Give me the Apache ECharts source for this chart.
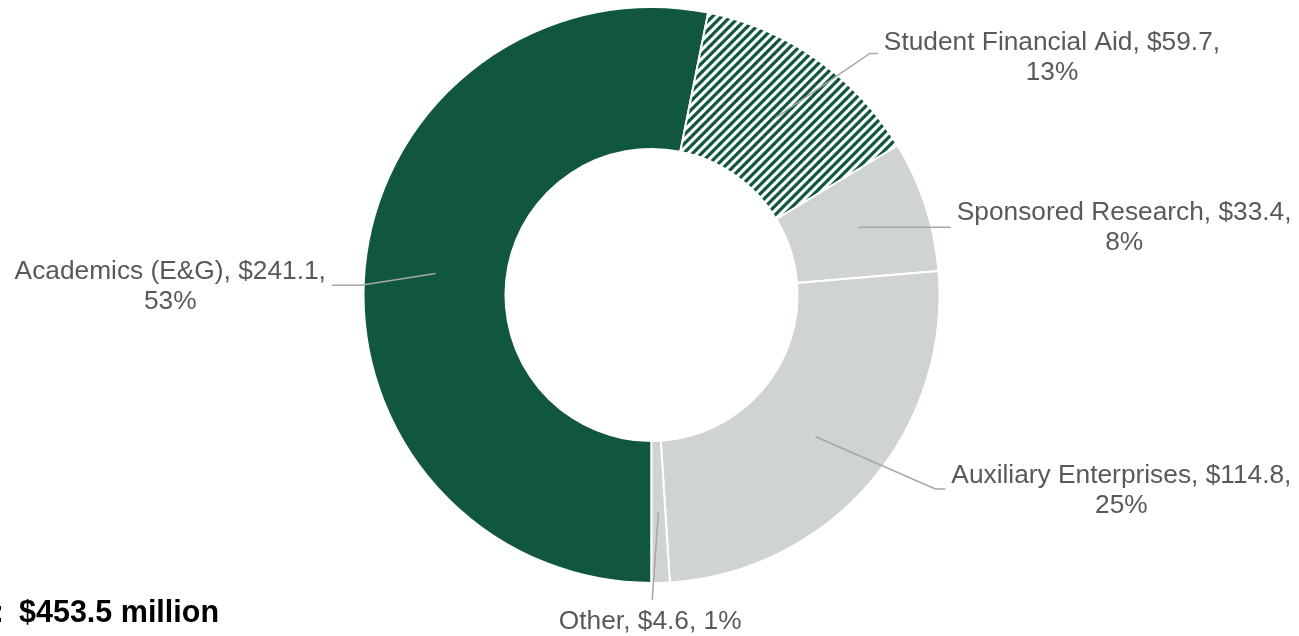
<!DOCTYPE html>
<html><head><meta charset="utf-8">
<script src="https://cdn.jsdelivr.net/npm/echarts@6/dist/echarts.min.js"></script>
<style>html,body{margin:0;padding:0;background:#fff}#c{width:1299px;height:636px}</style>
</head><body><div id="c"></div>
<script>
// ---- data ----
const categories = ['Academics (E&G)', 'Student Financial Aid', 'Sponsored Research', 'Auxiliary Enterprises', 'Other'];
const values = [241.1, 59.7, 33.4, 114.8, 4.6];
const percentLabels = ['53%', '13%', '8%', '25%', '1%'];
const twoLineLabel = [true, true, true, true, false];
const totalPrefix = 'Total:';
const totalLabel = '$453.5 million';

// ---- style ----
const GREEN = '#115740', GRAY = '#D0D3D4', TEXT = '#595959', FONT = '"Liberation Sans", Arial, sans-serif';
function makeHatch() {
  const s = 9, c = document.createElement('canvas');
  c.width = s; c.height = s;
  const g = c.getContext('2d');
  g.fillStyle = '#fff'; g.fillRect(0, 0, s, s);
  g.strokeStyle = GREEN; g.lineWidth = 3.2;
  g.beginPath();
  for (const o of [-s, 0, s]) { g.moveTo(o - 1, s + 1); g.lineTo(o + s + 1, -1); }
  g.stroke();
  return c;
}
const sliceFill = [GREEN, { image: makeHatch(), repeat: 'repeat' }, GRAY, GRAY, GRAY];
// leader-line styling per slice: radial length, horizontal length, elbow shift, line vertical shift, text vertical shift
const lineCfg = [
  { len: 75, len2: 29, ex: 0, dy: 19, ty: 1.5 },
  { len: 78, len2: 57, ex: 49, dy: 0, ty: 4 },
  { len: 2, len2: 91, ex: 0, dy: 0, ty: 0 },
  { len: 80, len2: 69, ex: 59, dy: 0, ty: 2 },
  { len: 88, len2: 0, ex: -9, dy: 22, dx: -11, ty: 0, center: true }
];
const CENTER = [651.5, 295];

const chart = echarts.init(document.getElementById('c'), null, { renderer: 'canvas' });
chart.setOption({
  animation: false,
  backgroundColor: '#fff',
  graphic: [
    { type: 'text', x: 4, y: 614, style: { text: totalPrefix, font: 'bold 30.5px ' + FONT, fill: '#000', align: 'right', textAlign: 'right', verticalAlign: 'middle', textVerticalAlign: 'middle' } },
    { type: 'text', x: 19, y: 614, style: { text: totalLabel, font: 'bold 30.5px ' + FONT, fill: '#000', align: 'left', textAlign: 'left', verticalAlign: 'middle', textVerticalAlign: 'middle' } }
  ],
  series: [
    {
      type: 'pie', z: 1, center: CENTER, radius: [146, 288], startAngle: 270, clockwise: true,
      silent: true, emphasis: { disabled: true },
      label: { show: false }, labelLine: { show: false },
      itemStyle: { borderColor: '#fff', borderWidth: 2 },
      data: values.map((v, i) => ({ value: v, name: categories[i], itemStyle: { color: sliceFill[i] } }))
    },
    {
      type: 'pie', z: 3, center: CENTER, radius: [0, 217], startAngle: 270, clockwise: true,
      silent: true, emphasis: { disabled: true }, avoidLabelOverlap: false,
      left: 0, right: 0, top: 0, bottom: 0,
      itemStyle: { color: 'rgba(0,0,0,0)', borderWidth: 0 },
      label: {
        show: true, position: 'outside', distanceToLabelLine: 6, bleedMargin: 0, overflow: 'none',
        formatter: p => {
          const i = p.dataIndex;
          const head = categories[i] + ', $' + values[i];
          return twoLineLabel[i] ? '{t|' + head + ',}\n{t|' + percentLabels[i] + '}' : '{t|' + head + ', ' + percentLabels[i] + '}';
        },
        rich: { t: { align: 'center', fontSize: 26.3, fontFamily: FONT, color: TEXT, lineHeight: 30 } }
      },
      labelLine: { show: true, smooth: false, lineStyle: { color: '#A6A6A6', width: 1.5 } },
      labelLayout: function (p) {
        const cfg = lineCfg[p.dataIndex];
        const pts = p.labelLinePoints;
        if (!cfg || !pts) return {};
        const a = pts[0], b = pts[1], e = pts[2];
        if (cfg.center) {
          return { x: b[0] + cfg.dx, y: b[1] + cfg.dy, align: 'center', verticalAlign: 'middle',
                   labelLinePoints: [a, [b[0] + cfg.ex, b[1]]] };
        }
        const cy = p.labelRect.y + p.labelRect.height / 2 + cfg.dy + cfg.ty;
        return { y: cy, labelLinePoints: [a, [b[0] + cfg.ex, b[1] + cfg.dy], [e[0], e[1] + cfg.dy]] };
      },
      data: values.map((v, i) => ({ value: v, name: categories[i], labelLine: { length: lineCfg[i].len, length2: lineCfg[i].len2 } }))
    }
  ]
});
</script>
</body></html>
